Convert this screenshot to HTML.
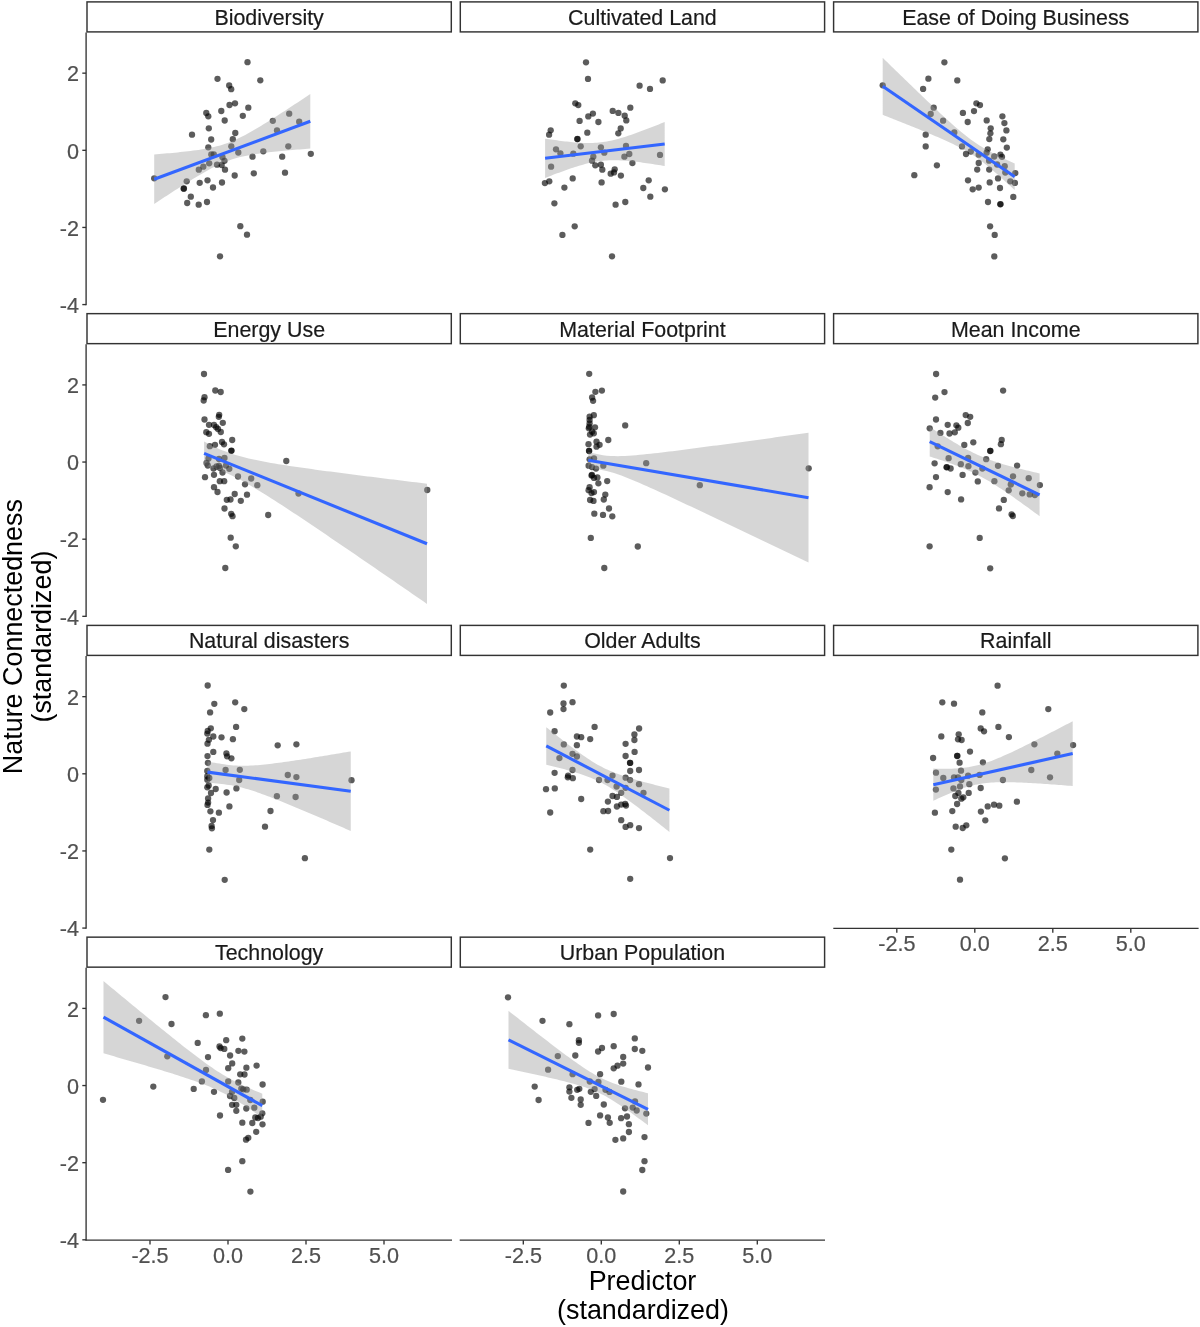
<!DOCTYPE html>
<html><head><meta charset="utf-8"><title>Nature Connectedness vs Predictors</title>
<style>html,body{margin:0;padding:0;background:#fff;width:1200px;height:1327px;overflow:hidden;font-family:"Liberation Sans",sans-serif;}svg{display:block;filter:blur(0.75px);}</style>
</head><body>
<svg width="1200" height="1327" viewBox="0 0 1200 1327">
<rect x="0" y="0" width="1200" height="1327" fill="#fff"/>
<g fill="#000" fill-opacity="0.64"><circle cx="247.5" cy="62.2" r="3.15"/><circle cx="217.5" cy="78.8" r="3.15"/><circle cx="260.3" cy="80.3" r="3.15"/><circle cx="229.2" cy="85.5" r="3.15"/><circle cx="231.2" cy="89.2" r="3.15"/><circle cx="229.5" cy="105.0" r="3.15"/><circle cx="235.0" cy="103.3" r="3.15"/><circle cx="248.3" cy="107.7" r="3.15"/><circle cx="221.3" cy="111.0" r="3.15"/><circle cx="206.3" cy="113.0" r="3.15"/><circle cx="208.3" cy="116.3" r="3.15"/><circle cx="242.8" cy="115.8" r="3.15"/><circle cx="224.7" cy="120.5" r="3.15"/><circle cx="272.8" cy="120.8" r="3.15"/><circle cx="289.2" cy="113.7" r="3.15"/><circle cx="299.2" cy="121.7" r="3.15"/><circle cx="277.0" cy="130.5" r="3.15"/><circle cx="208.8" cy="128.3" r="3.15"/><circle cx="192.0" cy="134.7" r="3.15"/><circle cx="235.3" cy="133.0" r="3.15"/><circle cx="211.2" cy="139.5" r="3.15"/><circle cx="232.8" cy="139.2" r="3.15"/><circle cx="208.3" cy="147.3" r="3.15"/><circle cx="231.3" cy="146.3" r="3.15"/><circle cx="288.3" cy="146.3" r="3.15"/><circle cx="238.3" cy="152.5" r="3.15"/><circle cx="263.3" cy="151.3" r="3.15"/><circle cx="252.5" cy="156.7" r="3.15"/><circle cx="282.2" cy="156.7" r="3.15"/><circle cx="310.8" cy="153.8" r="3.15"/><circle cx="211.3" cy="154.5" r="3.15"/><circle cx="213.8" cy="154.5" r="3.15"/><circle cx="222.5" cy="157.2" r="3.15"/><circle cx="224.5" cy="160.8" r="3.15"/><circle cx="209.2" cy="163.3" r="3.15"/><circle cx="217.0" cy="164.7" r="3.15"/><circle cx="221.7" cy="165.0" r="3.15"/><circle cx="203.3" cy="166.7" r="3.15"/><circle cx="198.8" cy="169.7" r="3.15"/><circle cx="225.0" cy="169.7" r="3.15"/><circle cx="234.7" cy="175.5" r="3.15"/><circle cx="253.8" cy="173.3" r="3.15"/><circle cx="285.0" cy="172.7" r="3.15"/><circle cx="154.2" cy="178.3" r="3.15"/><circle cx="186.7" cy="181.3" r="3.15"/><circle cx="207.5" cy="180.3" r="3.15"/><circle cx="199.7" cy="182.8" r="3.15"/><circle cx="222.0" cy="182.5" r="3.15"/><circle cx="183.7" cy="188.7" r="3.15"/><circle cx="183.9" cy="188.5" r="3.15"/><circle cx="213.0" cy="187.5" r="3.15"/><circle cx="190.8" cy="196.7" r="3.15"/><circle cx="187.2" cy="203.0" r="3.15"/><circle cx="198.7" cy="204.7" r="3.15"/><circle cx="207.0" cy="202.0" r="3.15"/><circle cx="240.3" cy="226.2" r="3.15"/><circle cx="247.0" cy="234.7" r="3.15"/><circle cx="220.0" cy="256.3" r="3.15"/></g>
<path d="M154.20,154.45 L156.80,154.24 L159.40,154.03 L162.00,153.81 L164.61,153.59 L167.21,153.36 L169.81,153.13 L172.41,152.89 L175.01,152.64 L177.61,152.38 L180.22,152.12 L182.82,151.84 L185.42,151.56 L188.02,151.26 L190.62,150.95 L193.22,150.62 L195.83,150.27 L198.43,149.90 L201.03,149.50 L203.63,149.08 L206.23,148.62 L208.83,148.13 L211.44,147.59 L214.04,147.00 L216.64,146.37 L219.24,145.67 L221.84,144.91 L224.44,144.08 L227.05,143.18 L229.65,142.20 L232.25,141.15 L234.85,140.03 L237.45,138.85 L240.06,137.60 L242.66,136.29 L245.26,134.93 L247.86,133.52 L250.46,132.07 L253.06,130.59 L255.66,129.07 L258.27,127.53 L260.87,125.96 L263.47,124.37 L266.07,122.77 L268.67,121.14 L271.27,119.51 L273.88,117.86 L276.48,116.20 L279.08,114.53 L281.68,112.85 L284.28,111.16 L286.88,109.47 L289.49,107.76 L292.09,106.06 L294.69,104.35 L297.29,102.63 L299.89,100.91 L302.50,99.19 L305.10,97.46 L307.70,95.73 L310.30,94.00 L310.30,148.60 L307.70,148.80 L305.10,149.00 L302.50,149.20 L299.89,149.41 L297.29,149.62 L294.69,149.83 L292.09,150.05 L289.49,150.28 L286.88,150.50 L284.28,150.74 L281.68,150.98 L279.08,151.23 L276.48,151.49 L273.88,151.76 L271.27,152.04 L268.67,152.34 L266.07,152.64 L263.47,152.97 L260.87,153.31 L258.27,153.67 L255.66,154.06 L253.06,154.47 L250.46,154.92 L247.86,155.40 L245.26,155.92 L242.66,156.49 L240.06,157.11 L237.45,157.79 L234.85,158.54 L232.25,159.35 L229.65,160.23 L227.05,161.18 L224.44,162.21 L221.84,163.31 L219.24,164.48 L216.64,165.71 L214.04,167.01 L211.44,168.35 L208.83,169.74 L206.23,171.18 L203.63,172.65 L201.03,174.16 L198.43,175.69 L195.83,177.25 L193.22,178.83 L190.62,180.43 L188.02,182.05 L185.42,183.68 L182.82,185.33 L180.22,186.98 L177.61,188.65 L175.01,190.32 L172.41,192.00 L169.81,193.69 L167.21,195.39 L164.61,197.09 L162.00,198.80 L159.40,200.51 L156.80,202.23 L154.20,203.95 Z" fill="#999999" fill-opacity="0.4"/>
<line x1="154.20" y1="179.20" x2="310.30" y2="121.30" stroke="#3366FF" stroke-width="3.1"/>
<rect x="87.0" y="1.90" width="364.30" height="30.0" fill="#fff" stroke="#333" stroke-width="1.45"/>
<text x="269.15" y="24.80" text-anchor="middle" font-family="Liberation Sans, sans-serif" font-size="21.4" fill="#1A1A1A" stroke="#1A1A1A" stroke-width="0.2">Biodiversity</text>
<g fill="#000" fill-opacity="0.64"><circle cx="586.0" cy="62.3" r="3.15"/><circle cx="588.0" cy="78.9" r="3.15"/><circle cx="662.7" cy="80.4" r="3.15"/><circle cx="639.6" cy="85.7" r="3.15"/><circle cx="650.0" cy="88.9" r="3.15"/><circle cx="575.3" cy="103.3" r="3.15"/><circle cx="578.3" cy="105.1" r="3.15"/><circle cx="630.3" cy="107.7" r="3.15"/><circle cx="612.7" cy="110.9" r="3.15"/><circle cx="618.4" cy="112.9" r="3.15"/><circle cx="592.9" cy="113.6" r="3.15"/><circle cx="588.3" cy="116.4" r="3.15"/><circle cx="624.7" cy="115.7" r="3.15"/><circle cx="626.3" cy="120.4" r="3.15"/><circle cx="579.6" cy="120.9" r="3.15"/><circle cx="598.4" cy="122.0" r="3.15"/><circle cx="550.7" cy="130.3" r="3.15"/><circle cx="549.1" cy="134.7" r="3.15"/><circle cx="620.7" cy="128.4" r="3.15"/><circle cx="618.3" cy="133.3" r="3.15"/><circle cx="587.3" cy="132.7" r="3.15"/><circle cx="577.3" cy="139.1" r="3.15"/><circle cx="577.5" cy="139.0" r="3.15"/><circle cx="580.7" cy="146.3" r="3.15"/><circle cx="600.9" cy="147.3" r="3.15"/><circle cx="556.0" cy="149.3" r="3.15"/><circle cx="560.4" cy="153.3" r="3.15"/><circle cx="573.3" cy="153.7" r="3.15"/><circle cx="604.3" cy="152.7" r="3.15"/><circle cx="626.0" cy="146.0" r="3.15"/><circle cx="629.3" cy="154.0" r="3.15"/><circle cx="624.4" cy="156.7" r="3.15"/><circle cx="660.0" cy="154.9" r="3.15"/><circle cx="593.3" cy="156.7" r="3.15"/><circle cx="592.0" cy="160.7" r="3.15"/><circle cx="595.3" cy="165.3" r="3.15"/><circle cx="600.9" cy="164.7" r="3.15"/><circle cx="602.3" cy="169.7" r="3.15"/><circle cx="632.4" cy="163.1" r="3.15"/><circle cx="551.1" cy="166.7" r="3.15"/><circle cx="614.7" cy="169.3" r="3.15"/><circle cx="610.7" cy="173.7" r="3.15"/><circle cx="614.0" cy="172.4" r="3.15"/><circle cx="620.9" cy="175.6" r="3.15"/><circle cx="572.7" cy="178.4" r="3.15"/><circle cx="549.3" cy="181.3" r="3.15"/><circle cx="544.9" cy="183.1" r="3.15"/><circle cx="601.6" cy="182.4" r="3.15"/><circle cx="648.7" cy="180.3" r="3.15"/><circle cx="564.4" cy="187.6" r="3.15"/><circle cx="643.3" cy="188.0" r="3.15"/><circle cx="664.9" cy="189.3" r="3.15"/><circle cx="650.3" cy="196.7" r="3.15"/><circle cx="554.4" cy="203.3" r="3.15"/><circle cx="615.6" cy="204.7" r="3.15"/><circle cx="625.3" cy="202.0" r="3.15"/><circle cx="574.7" cy="226.3" r="3.15"/><circle cx="562.4" cy="234.9" r="3.15"/><circle cx="612.0" cy="256.3" r="3.15"/></g>
<path d="M545.10,138.65 L547.09,138.95 L549.09,139.25 L551.08,139.54 L553.07,139.82 L555.07,140.10 L557.06,140.37 L559.05,140.64 L561.05,140.89 L563.04,141.14 L565.03,141.38 L567.03,141.61 L569.02,141.83 L571.01,142.03 L573.01,142.22 L575.00,142.39 L576.99,142.55 L578.99,142.68 L580.98,142.80 L582.97,142.89 L584.97,142.96 L586.96,143.00 L588.95,143.01 L590.95,142.99 L592.94,142.93 L594.93,142.84 L596.93,142.71 L598.92,142.54 L600.91,142.33 L602.91,142.07 L604.90,141.78 L606.89,141.45 L608.89,141.07 L610.88,140.66 L612.87,140.21 L614.87,139.73 L616.86,139.21 L618.85,138.67 L620.85,138.10 L622.84,137.50 L624.83,136.88 L626.83,136.24 L628.82,135.59 L630.81,134.91 L632.81,134.22 L634.80,133.52 L636.79,132.81 L638.79,132.08 L640.78,131.35 L642.77,130.60 L644.77,129.85 L646.76,129.09 L648.75,128.32 L650.75,127.55 L652.74,126.77 L654.73,125.99 L656.73,125.20 L658.72,124.40 L660.71,123.61 L662.71,122.80 L664.70,122.00 L664.70,166.00 L662.71,165.67 L660.71,165.35 L658.72,165.03 L656.73,164.71 L654.73,164.40 L652.74,164.09 L650.75,163.79 L648.75,163.49 L646.76,163.20 L644.77,162.92 L642.77,162.64 L640.78,162.37 L638.79,162.11 L636.79,161.87 L634.80,161.63 L632.81,161.40 L630.81,161.19 L628.82,160.99 L626.83,160.81 L624.83,160.65 L622.84,160.51 L620.85,160.39 L618.85,160.30 L616.86,160.23 L614.87,160.19 L612.87,160.18 L610.88,160.21 L608.89,160.27 L606.89,160.38 L604.90,160.52 L602.91,160.70 L600.91,160.93 L598.92,161.19 L596.93,161.50 L594.93,161.85 L592.94,162.23 L590.95,162.65 L588.95,163.10 L586.96,163.59 L584.97,164.11 L582.97,164.65 L580.98,165.22 L578.99,165.81 L576.99,166.43 L575.00,167.06 L573.01,167.71 L571.01,168.37 L569.02,169.05 L567.03,169.75 L565.03,170.45 L563.04,171.17 L561.05,171.89 L559.05,172.63 L557.06,173.37 L555.07,174.12 L553.07,174.87 L551.08,175.63 L549.09,176.40 L547.09,177.17 L545.10,177.95 Z" fill="#999999" fill-opacity="0.4"/>
<line x1="545.10" y1="158.30" x2="664.70" y2="144.00" stroke="#3366FF" stroke-width="3.1"/>
<rect x="460.3" y="1.90" width="364.30" height="30.0" fill="#fff" stroke="#333" stroke-width="1.45"/>
<text x="642.45" y="24.80" text-anchor="middle" font-family="Liberation Sans, sans-serif" font-size="21.4" fill="#1A1A1A" stroke="#1A1A1A" stroke-width="0.2">Cultivated Land</text>
<g fill="#000" fill-opacity="0.64"><circle cx="944.4" cy="62.3" r="3.15"/><circle cx="928.4" cy="78.7" r="3.15"/><circle cx="957.3" cy="80.4" r="3.15"/><circle cx="882.7" cy="85.3" r="3.15"/><circle cx="923.1" cy="88.9" r="3.15"/><circle cx="976.4" cy="103.3" r="3.15"/><circle cx="980.0" cy="105.1" r="3.15"/><circle cx="974.0" cy="111.1" r="3.15"/><circle cx="962.9" cy="112.9" r="3.15"/><circle cx="933.7" cy="107.7" r="3.15"/><circle cx="930.7" cy="114.0" r="3.15"/><circle cx="1002.4" cy="116.3" r="3.15"/><circle cx="986.7" cy="120.4" r="3.15"/><circle cx="1004.4" cy="123.1" r="3.15"/><circle cx="943.1" cy="120.7" r="3.15"/><circle cx="967.7" cy="122.0" r="3.15"/><circle cx="990.7" cy="128.3" r="3.15"/><circle cx="990.4" cy="133.3" r="3.15"/><circle cx="1006.4" cy="130.4" r="3.15"/><circle cx="954.3" cy="132.4" r="3.15"/><circle cx="925.7" cy="134.7" r="3.15"/><circle cx="989.3" cy="139.1" r="3.15"/><circle cx="1003.3" cy="139.3" r="3.15"/><circle cx="925.7" cy="146.4" r="3.15"/><circle cx="962.0" cy="146.4" r="3.15"/><circle cx="1006.8" cy="147.6" r="3.15"/><circle cx="987.7" cy="149.3" r="3.15"/><circle cx="970.8" cy="151.5" r="3.15"/><circle cx="966.0" cy="154.0" r="3.15"/><circle cx="978.7" cy="154.7" r="3.15"/><circle cx="986.6" cy="152.7" r="3.15"/><circle cx="994.2" cy="156.5" r="3.15"/><circle cx="1000.4" cy="154.7" r="3.15"/><circle cx="1002.0" cy="156.8" r="3.15"/><circle cx="989.1" cy="160.7" r="3.15"/><circle cx="978.7" cy="163.0" r="3.15"/><circle cx="997.1" cy="164.5" r="3.15"/><circle cx="1004.7" cy="166.2" r="3.15"/><circle cx="936.9" cy="165.3" r="3.15"/><circle cx="977.2" cy="169.6" r="3.15"/><circle cx="989.2" cy="169.6" r="3.15"/><circle cx="1015.3" cy="173.1" r="3.15"/><circle cx="1005.3" cy="172.5" r="3.15"/><circle cx="914.3" cy="175.2" r="3.15"/><circle cx="968.0" cy="180.3" r="3.15"/><circle cx="998.0" cy="178.4" r="3.15"/><circle cx="989.7" cy="182.4" r="3.15"/><circle cx="1010.3" cy="181.3" r="3.15"/><circle cx="1014.9" cy="182.9" r="3.15"/><circle cx="972.7" cy="189.3" r="3.15"/><circle cx="978.7" cy="187.6" r="3.15"/><circle cx="1000.0" cy="188.0" r="3.15"/><circle cx="1013.3" cy="196.9" r="3.15"/><circle cx="988.0" cy="202.0" r="3.15"/><circle cx="1000.3" cy="204.3" r="3.15"/><circle cx="1000.5" cy="204.1" r="3.15"/><circle cx="990.1" cy="226.3" r="3.15"/><circle cx="994.7" cy="234.9" r="3.15"/><circle cx="994.3" cy="256.4" r="3.15"/></g>
<path d="M882.70,57.80 L884.90,59.95 L887.10,62.09 L889.30,64.23 L891.50,66.38 L893.70,68.52 L895.90,70.66 L898.10,72.80 L900.30,74.94 L902.50,77.07 L904.70,79.20 L906.90,81.34 L909.10,83.47 L911.30,85.59 L913.50,87.72 L915.70,89.84 L917.90,91.96 L920.10,94.07 L922.30,96.19 L924.50,98.29 L926.70,100.40 L928.90,102.49 L931.10,104.59 L933.30,106.67 L935.50,108.75 L937.70,110.82 L939.90,112.88 L942.10,114.93 L944.30,116.97 L946.50,118.99 L948.70,121.00 L950.90,122.99 L953.10,124.95 L955.30,126.90 L957.50,128.81 L959.70,130.70 L961.90,132.54 L964.10,134.35 L966.30,136.10 L968.50,137.81 L970.70,139.46 L972.90,141.05 L975.10,142.58 L977.30,144.05 L979.50,145.47 L981.70,146.83 L983.90,148.15 L986.10,149.42 L988.30,150.64 L990.50,151.83 L992.70,152.99 L994.90,154.11 L997.10,155.22 L999.30,156.29 L1001.50,157.35 L1003.70,158.39 L1005.90,159.42 L1008.10,160.43 L1010.30,161.43 L1012.50,162.42 L1014.70,163.40 L1014.70,190.00 L1012.50,187.97 L1010.30,185.94 L1008.10,183.93 L1005.90,181.93 L1003.70,179.94 L1001.50,177.97 L999.30,176.01 L997.10,174.08 L994.90,172.17 L992.70,170.28 L990.50,168.42 L988.30,166.60 L986.10,164.81 L983.90,163.07 L981.70,161.37 L979.50,159.72 L977.30,158.12 L975.10,156.58 L972.90,155.10 L970.70,153.67 L968.50,152.31 L966.30,151.00 L964.10,149.75 L961.90,148.54 L959.70,147.37 L957.50,146.24 L955.30,145.14 L953.10,144.07 L950.90,143.03 L948.70,142.00 L946.50,141.00 L944.30,140.01 L942.10,139.03 L939.90,138.07 L937.70,137.11 L935.50,136.17 L933.30,135.24 L931.10,134.31 L928.90,133.39 L926.70,132.47 L924.50,131.56 L922.30,130.65 L920.10,129.75 L917.90,128.85 L915.70,127.96 L913.50,127.07 L911.30,126.18 L909.10,125.29 L906.90,124.41 L904.70,123.53 L902.50,122.65 L900.30,121.77 L898.10,120.90 L895.90,120.02 L893.70,119.15 L891.50,118.28 L889.30,117.41 L887.10,116.54 L884.90,115.67 L882.70,114.80 Z" fill="#999999" fill-opacity="0.4"/>
<line x1="882.70" y1="86.30" x2="1014.70" y2="176.70" stroke="#3366FF" stroke-width="3.1"/>
<rect x="833.6" y="1.90" width="364.30" height="30.0" fill="#fff" stroke="#333" stroke-width="1.45"/>
<text x="1015.75" y="24.80" text-anchor="middle" font-family="Liberation Sans, sans-serif" font-size="21.4" fill="#1A1A1A" stroke="#1A1A1A" stroke-width="0.2">Ease of Doing Business</text>
<g fill="#000" fill-opacity="0.64"><circle cx="204.0" cy="374.0" r="3.15"/><circle cx="215.3" cy="390.5" r="3.15"/><circle cx="220.7" cy="392.0" r="3.15"/><circle cx="204.5" cy="397.2" r="3.15"/><circle cx="203.7" cy="400.5" r="3.15"/><circle cx="219.2" cy="414.8" r="3.15"/><circle cx="218.8" cy="416.8" r="3.15"/><circle cx="204.5" cy="419.5" r="3.15"/><circle cx="222.8" cy="422.8" r="3.15"/><circle cx="209.0" cy="424.8" r="3.15"/><circle cx="214.0" cy="425.0" r="3.15"/><circle cx="216.2" cy="427.2" r="3.15"/><circle cx="218.0" cy="429.0" r="3.15"/><circle cx="220.8" cy="432.0" r="3.15"/><circle cx="206.3" cy="432.2" r="3.15"/><circle cx="209.0" cy="433.8" r="3.15"/><circle cx="232.2" cy="440.0" r="3.15"/><circle cx="222.0" cy="442.0" r="3.15"/><circle cx="224.0" cy="444.3" r="3.15"/><circle cx="209.8" cy="446.2" r="3.15"/><circle cx="215.0" cy="444.8" r="3.15"/><circle cx="231.3" cy="450.8" r="3.15"/><circle cx="231.5" cy="450.6" r="3.15"/><circle cx="286.3" cy="461.0" r="3.15"/><circle cx="224.5" cy="458.0" r="3.15"/><circle cx="208.5" cy="458.5" r="3.15"/><circle cx="206.5" cy="463.0" r="3.15"/><circle cx="207.8" cy="465.5" r="3.15"/><circle cx="219.0" cy="459.0" r="3.15"/><circle cx="219.0" cy="466.0" r="3.15"/><circle cx="220.0" cy="468.0" r="3.15"/><circle cx="213.5" cy="468.5" r="3.15"/><circle cx="216.5" cy="466.5" r="3.15"/><circle cx="226.0" cy="465.5" r="3.15"/><circle cx="229.3" cy="468.8" r="3.15"/><circle cx="222.5" cy="472.5" r="3.15"/><circle cx="214.0" cy="474.8" r="3.15"/><circle cx="205.0" cy="477.2" r="3.15"/><circle cx="238.0" cy="476.5" r="3.15"/><circle cx="251.2" cy="478.5" r="3.15"/><circle cx="219.8" cy="481.2" r="3.15"/><circle cx="224.2" cy="481.2" r="3.15"/><circle cx="245.0" cy="484.3" r="3.15"/><circle cx="257.3" cy="485.2" r="3.15"/><circle cx="214.0" cy="487.2" r="3.15"/><circle cx="217.5" cy="492.0" r="3.15"/><circle cx="234.7" cy="494.0" r="3.15"/><circle cx="247.0" cy="494.7" r="3.15"/><circle cx="298.5" cy="493.5" r="3.15"/><circle cx="226.8" cy="499.8" r="3.15"/><circle cx="230.5" cy="499.5" r="3.15"/><circle cx="240.8" cy="500.8" r="3.15"/><circle cx="224.5" cy="508.5" r="3.15"/><circle cx="231.2" cy="513.8" r="3.15"/><circle cx="232.5" cy="516.2" r="3.15"/><circle cx="268.2" cy="515.0" r="3.15"/><circle cx="230.7" cy="537.7" r="3.15"/><circle cx="235.8" cy="546.3" r="3.15"/><circle cx="427.3" cy="490.0" r="3.15"/><circle cx="225.3" cy="568.0" r="3.15"/></g>
<path d="M204.10,441.40 L207.81,443.44 L211.53,445.38 L215.25,447.19 L218.96,448.88 L222.67,450.43 L226.39,451.86 L230.10,453.19 L233.82,454.41 L237.53,455.54 L241.25,456.59 L244.97,457.56 L248.68,458.46 L252.39,459.30 L256.11,460.10 L259.82,460.85 L263.54,461.57 L267.25,462.25 L270.97,462.91 L274.69,463.55 L278.40,464.16 L282.12,464.76 L285.83,465.34 L289.54,465.91 L293.26,466.47 L296.98,467.01 L300.69,467.55 L304.40,468.08 L308.12,468.60 L311.83,469.12 L315.55,469.63 L319.26,470.13 L322.98,470.63 L326.69,471.13 L330.41,471.62 L334.12,472.11 L337.84,472.59 L341.56,473.07 L345.27,473.55 L348.99,474.03 L352.70,474.50 L356.41,474.98 L360.13,475.45 L363.85,475.92 L367.56,476.38 L371.27,476.85 L374.99,477.31 L378.71,477.78 L382.42,478.24 L386.13,478.70 L389.85,479.16 L393.56,479.61 L397.28,480.07 L401.00,480.53 L404.71,480.98 L408.42,481.44 L412.14,481.89 L415.86,482.34 L419.57,482.80 L423.28,483.25 L427.00,483.70 L427.00,603.90 L423.28,601.34 L419.57,598.78 L415.86,596.22 L412.14,593.65 L408.42,591.10 L404.71,588.54 L401.00,585.98 L397.28,583.42 L393.56,580.87 L389.85,578.31 L386.13,575.76 L382.42,573.20 L378.71,570.65 L374.99,568.10 L371.27,565.55 L367.56,563.00 L363.85,560.46 L360.13,557.91 L356.41,555.37 L352.70,552.83 L348.99,550.29 L345.27,547.75 L341.56,545.22 L337.84,542.69 L334.12,540.16 L330.41,537.64 L326.69,535.11 L322.98,532.60 L319.26,530.08 L315.55,527.57 L311.83,525.07 L308.12,522.57 L304.40,520.08 L300.69,517.60 L296.98,515.12 L293.26,512.65 L289.54,510.20 L285.83,507.75 L282.12,505.32 L278.40,502.91 L274.69,500.51 L270.97,498.13 L267.25,495.77 L263.54,493.45 L259.82,491.15 L256.11,488.89 L252.39,486.67 L248.68,484.50 L244.97,482.39 L241.25,480.35 L237.53,478.38 L233.82,476.49 L230.10,474.70 L226.39,473.02 L222.67,471.44 L218.96,469.97 L215.25,468.65 L211.53,467.45 L207.81,466.37 L204.10,465.40 Z" fill="#999999" fill-opacity="0.4"/>
<line x1="204.10" y1="453.40" x2="427.00" y2="543.80" stroke="#3366FF" stroke-width="3.1"/>
<rect x="87.0" y="313.65" width="364.30" height="30.0" fill="#fff" stroke="#333" stroke-width="1.45"/>
<text x="269.15" y="336.55" text-anchor="middle" font-family="Liberation Sans, sans-serif" font-size="21.4" fill="#1A1A1A" stroke="#1A1A1A" stroke-width="0.2">Energy Use</text>
<g fill="#000" fill-opacity="0.64"><circle cx="589.2" cy="373.8" r="3.15"/><circle cx="595.4" cy="391.8" r="3.15"/><circle cx="601.9" cy="390.6" r="3.15"/><circle cx="592.1" cy="397.5" r="3.15"/><circle cx="593.1" cy="400.8" r="3.15"/><circle cx="593.8" cy="415.2" r="3.15"/><circle cx="589.6" cy="416.7" r="3.15"/><circle cx="589.6" cy="420.0" r="3.15"/><circle cx="589.6" cy="423.3" r="3.15"/><circle cx="589.2" cy="426.7" r="3.15"/><circle cx="595.0" cy="427.3" r="3.15"/><circle cx="588.8" cy="428.3" r="3.15"/><circle cx="592.1" cy="431.7" r="3.15"/><circle cx="593.8" cy="433.3" r="3.15"/><circle cx="590.0" cy="434.6" r="3.15"/><circle cx="625.2" cy="425.4" r="3.15"/><circle cx="608.3" cy="440.0" r="3.15"/><circle cx="596.5" cy="441.7" r="3.15"/><circle cx="599.6" cy="444.8" r="3.15"/><circle cx="596.5" cy="446.7" r="3.15"/><circle cx="588.5" cy="444.2" r="3.15"/><circle cx="589.0" cy="450.8" r="3.15"/><circle cx="589.2" cy="451.0" r="3.15"/><circle cx="589.6" cy="459.3" r="3.15"/><circle cx="594.0" cy="458.3" r="3.15"/><circle cx="588.6" cy="465.7" r="3.15"/><circle cx="592.0" cy="467.1" r="3.15"/><circle cx="596.0" cy="468.6" r="3.15"/><circle cx="603.3" cy="465.7" r="3.15"/><circle cx="646.2" cy="463.2" r="3.15"/><circle cx="592.0" cy="475.0" r="3.15"/><circle cx="591.5" cy="475.5" r="3.15"/><circle cx="594.0" cy="477.9" r="3.15"/><circle cx="597.4" cy="477.4" r="3.15"/><circle cx="598.4" cy="483.3" r="3.15"/><circle cx="607.2" cy="481.1" r="3.15"/><circle cx="589.6" cy="487.2" r="3.15"/><circle cx="588.6" cy="490.2" r="3.15"/><circle cx="591.5" cy="493.1" r="3.15"/><circle cx="594.0" cy="492.1" r="3.15"/><circle cx="590.1" cy="500.0" r="3.15"/><circle cx="593.5" cy="500.9" r="3.15"/><circle cx="605.3" cy="494.6" r="3.15"/><circle cx="603.8" cy="499.5" r="3.15"/><circle cx="609.0" cy="508.5" r="3.15"/><circle cx="594.3" cy="513.7" r="3.15"/><circle cx="603.0" cy="514.9" r="3.15"/><circle cx="612.3" cy="516.3" r="3.15"/><circle cx="590.8" cy="537.9" r="3.15"/><circle cx="637.8" cy="546.5" r="3.15"/><circle cx="604.3" cy="568.0" r="3.15"/><circle cx="808.7" cy="468.3" r="3.15"/><circle cx="699.8" cy="485.2" r="3.15"/></g>
<path d="M588.30,451.90 L591.97,452.90 L595.64,453.79 L599.31,454.56 L602.98,455.18 L606.65,455.64 L610.32,455.94 L613.99,456.10 L617.66,456.14 L621.33,456.07 L625.00,455.93 L628.67,455.73 L632.34,455.47 L636.01,455.18 L639.68,454.85 L643.35,454.49 L647.02,454.12 L650.69,453.73 L654.36,453.32 L658.03,452.90 L661.70,452.47 L665.37,452.03 L669.04,451.58 L672.71,451.13 L676.38,450.67 L680.05,450.20 L683.72,449.73 L687.39,449.26 L691.06,448.78 L694.73,448.30 L698.40,447.82 L702.07,447.34 L705.74,446.85 L709.41,446.36 L713.08,445.87 L716.75,445.38 L720.42,444.89 L724.09,444.39 L727.76,443.90 L731.43,443.40 L735.10,442.90 L738.77,442.40 L742.44,441.90 L746.11,441.40 L749.78,440.90 L753.45,440.40 L757.12,439.89 L760.79,439.39 L764.46,438.89 L768.13,438.38 L771.80,437.88 L775.47,437.37 L779.14,436.86 L782.81,436.36 L786.48,435.85 L790.15,435.34 L793.82,434.83 L797.49,434.33 L801.16,433.82 L804.83,433.31 L808.50,432.80 L808.50,562.60 L804.83,560.84 L801.16,559.08 L797.49,557.32 L793.82,555.57 L790.15,553.81 L786.48,552.05 L782.81,550.29 L779.14,548.54 L775.47,546.78 L771.80,545.02 L768.13,543.27 L764.46,541.51 L760.79,539.76 L757.12,538.01 L753.45,536.25 L749.78,534.50 L746.11,532.75 L742.44,531.00 L738.77,529.25 L735.10,527.50 L731.43,525.75 L727.76,524.00 L724.09,522.26 L720.42,520.51 L716.75,518.77 L713.08,517.03 L709.41,515.29 L705.74,513.55 L702.07,511.81 L698.40,510.08 L694.73,508.35 L691.06,506.62 L687.39,504.89 L683.72,503.17 L680.05,501.45 L676.38,499.73 L672.71,498.02 L669.04,496.32 L665.37,494.62 L661.70,492.93 L658.03,491.25 L654.36,489.58 L650.69,487.92 L647.02,486.28 L643.35,484.66 L639.68,483.05 L636.01,481.47 L632.34,479.93 L628.67,478.42 L625.00,476.97 L621.33,475.58 L617.66,474.26 L613.99,473.05 L610.32,471.96 L606.65,471.01 L602.98,470.22 L599.31,469.59 L595.64,469.11 L591.97,468.75 L588.30,468.50 Z" fill="#999999" fill-opacity="0.4"/>
<line x1="588.30" y1="460.20" x2="808.50" y2="497.70" stroke="#3366FF" stroke-width="3.1"/>
<rect x="460.3" y="313.65" width="364.30" height="30.0" fill="#fff" stroke="#333" stroke-width="1.45"/>
<text x="642.45" y="336.55" text-anchor="middle" font-family="Liberation Sans, sans-serif" font-size="21.4" fill="#1A1A1A" stroke="#1A1A1A" stroke-width="0.2">Material Footprint</text>
<g fill="#000" fill-opacity="0.64"><circle cx="936.1" cy="374.0" r="3.15"/><circle cx="944.5" cy="392.1" r="3.15"/><circle cx="935.2" cy="397.6" r="3.15"/><circle cx="1003.1" cy="390.6" r="3.15"/><circle cx="965.7" cy="415.1" r="3.15"/><circle cx="970.2" cy="416.8" r="3.15"/><circle cx="967.8" cy="423.0" r="3.15"/><circle cx="936.0" cy="419.5" r="3.15"/><circle cx="947.7" cy="424.8" r="3.15"/><circle cx="956.4" cy="425.3" r="3.15"/><circle cx="958.3" cy="427.7" r="3.15"/><circle cx="929.7" cy="428.3" r="3.15"/><circle cx="940.4" cy="432.9" r="3.15"/><circle cx="949.5" cy="433.5" r="3.15"/><circle cx="954.8" cy="432.3" r="3.15"/><circle cx="973.3" cy="442.3" r="3.15"/><circle cx="964.3" cy="444.9" r="3.15"/><circle cx="1001.7" cy="439.9" r="3.15"/><circle cx="1000.9" cy="444.2" r="3.15"/><circle cx="937.7" cy="446.3" r="3.15"/><circle cx="990.2" cy="451.0" r="3.15"/><circle cx="990.4" cy="450.8" r="3.15"/><circle cx="948.6" cy="458.2" r="3.15"/><circle cx="968.1" cy="458.0" r="3.15"/><circle cx="986.2" cy="459.2" r="3.15"/><circle cx="934.6" cy="463.3" r="3.15"/><circle cx="960.8" cy="464.2" r="3.15"/><circle cx="968.4" cy="466.2" r="3.15"/><circle cx="998.0" cy="465.8" r="3.15"/><circle cx="1017.1" cy="465.6" r="3.15"/><circle cx="946.6" cy="467.3" r="3.15"/><circle cx="946.8" cy="467.1" r="3.15"/><circle cx="950.6" cy="468.5" r="3.15"/><circle cx="982.4" cy="468.6" r="3.15"/><circle cx="975.4" cy="472.6" r="3.15"/><circle cx="962.6" cy="474.9" r="3.15"/><circle cx="936.0" cy="477.1" r="3.15"/><circle cx="1013.0" cy="476.3" r="3.15"/><circle cx="1028.7" cy="478.2" r="3.15"/><circle cx="977.8" cy="481.4" r="3.15"/><circle cx="994.4" cy="481.2" r="3.15"/><circle cx="1010.8" cy="484.5" r="3.15"/><circle cx="1039.9" cy="485.1" r="3.15"/><circle cx="929.6" cy="487.2" r="3.15"/><circle cx="1008.7" cy="490.3" r="3.15"/><circle cx="1022.3" cy="493.3" r="3.15"/><circle cx="1029.7" cy="494.4" r="3.15"/><circle cx="1034.9" cy="495.0" r="3.15"/><circle cx="947.7" cy="492.1" r="3.15"/><circle cx="961.1" cy="499.4" r="3.15"/><circle cx="1003.8" cy="499.9" r="3.15"/><circle cx="999.0" cy="508.4" r="3.15"/><circle cx="1011.6" cy="514.3" r="3.15"/><circle cx="1012.8" cy="516.0" r="3.15"/><circle cx="979.7" cy="537.9" r="3.15"/><circle cx="929.6" cy="546.3" r="3.15"/><circle cx="990.2" cy="568.3" r="3.15"/></g>
<path d="M929.70,426.85 L931.53,428.06 L933.36,429.27 L935.20,430.46 L937.03,431.66 L938.86,432.84 L940.69,434.01 L942.52,435.18 L944.35,436.33 L946.19,437.48 L948.02,438.61 L949.85,439.73 L951.68,440.85 L953.51,441.94 L955.34,443.03 L957.17,444.09 L959.01,445.15 L960.84,446.18 L962.67,447.20 L964.50,448.21 L966.33,449.19 L968.16,450.16 L970.00,451.10 L971.83,452.03 L973.66,452.94 L975.49,453.82 L977.32,454.68 L979.15,455.51 L980.99,456.32 L982.82,457.09 L984.65,457.84 L986.48,458.57 L988.31,459.27 L990.14,459.95 L991.98,460.60 L993.81,461.24 L995.64,461.85 L997.47,462.45 L999.30,463.03 L1001.13,463.60 L1002.97,464.15 L1004.80,464.69 L1006.63,465.22 L1008.46,465.73 L1010.29,466.24 L1012.12,466.73 L1013.96,467.22 L1015.79,467.70 L1017.62,468.17 L1019.45,468.63 L1021.28,469.09 L1023.11,469.54 L1024.95,469.99 L1026.78,470.43 L1028.61,470.87 L1030.44,471.30 L1032.27,471.73 L1034.11,472.15 L1035.94,472.57 L1037.77,472.99 L1039.60,473.40 L1039.60,516.20 L1037.77,514.84 L1035.94,513.49 L1034.11,512.14 L1032.27,510.79 L1030.44,509.45 L1028.61,508.11 L1026.78,506.78 L1024.95,505.45 L1023.11,504.13 L1021.28,502.81 L1019.45,501.50 L1017.62,500.19 L1015.79,498.89 L1013.96,497.60 L1012.12,496.32 L1010.29,495.04 L1008.46,493.78 L1006.63,492.52 L1004.80,491.28 L1002.97,490.05 L1001.13,488.83 L999.30,487.63 L997.47,486.44 L995.64,485.27 L993.81,484.11 L991.98,482.98 L990.14,481.86 L988.31,480.77 L986.48,479.70 L984.65,478.66 L982.82,477.64 L980.99,476.64 L979.15,475.68 L977.32,474.74 L975.49,473.83 L973.66,472.94 L971.83,472.08 L970.00,471.24 L968.16,470.41 L966.33,469.61 L964.50,468.82 L962.67,468.06 L960.84,467.31 L959.01,466.57 L957.17,465.86 L955.34,465.15 L953.51,464.47 L951.68,463.79 L949.85,463.14 L948.02,462.49 L946.19,461.85 L944.35,461.23 L942.52,460.61 L940.69,460.01 L938.86,459.41 L937.03,458.82 L935.20,458.25 L933.36,457.67 L931.53,457.11 L929.70,456.55 Z" fill="#999999" fill-opacity="0.4"/>
<line x1="929.70" y1="441.70" x2="1039.60" y2="494.80" stroke="#3366FF" stroke-width="3.1"/>
<rect x="833.6" y="313.65" width="364.30" height="30.0" fill="#fff" stroke="#333" stroke-width="1.45"/>
<text x="1015.75" y="336.55" text-anchor="middle" font-family="Liberation Sans, sans-serif" font-size="21.4" fill="#1A1A1A" stroke="#1A1A1A" stroke-width="0.2">Mean Income</text>
<g fill="#000" fill-opacity="0.64"><circle cx="207.7" cy="685.5" r="3.15"/><circle cx="214.3" cy="703.8" r="3.15"/><circle cx="235.2" cy="702.3" r="3.15"/><circle cx="244.3" cy="709.1" r="3.15"/><circle cx="210.1" cy="712.4" r="3.15"/><circle cx="210.8" cy="728.3" r="3.15"/><circle cx="207.7" cy="730.9" r="3.15"/><circle cx="207.3" cy="733.6" r="3.15"/><circle cx="236.1" cy="726.9" r="3.15"/><circle cx="213.3" cy="736.5" r="3.15"/><circle cx="221.5" cy="737.3" r="3.15"/><circle cx="208.9" cy="739.8" r="3.15"/><circle cx="207.5" cy="743.7" r="3.15"/><circle cx="232.9" cy="739.2" r="3.15"/><circle cx="277.7" cy="745.3" r="3.15"/><circle cx="296.4" cy="744.3" r="3.15"/><circle cx="213.3" cy="751.9" r="3.15"/><circle cx="226.4" cy="753.4" r="3.15"/><circle cx="227.1" cy="756.3" r="3.15"/><circle cx="231.4" cy="758.3" r="3.15"/><circle cx="207.5" cy="756.1" r="3.15"/><circle cx="207.9" cy="762.8" r="3.15"/><circle cx="207.3" cy="770.9" r="3.15"/><circle cx="225.6" cy="770.0" r="3.15"/><circle cx="239.8" cy="769.8" r="3.15"/><circle cx="207.3" cy="776.2" r="3.15"/><circle cx="209.3" cy="777.9" r="3.15"/><circle cx="287.8" cy="775.0" r="3.15"/><circle cx="296.4" cy="777.1" r="3.15"/><circle cx="239.2" cy="780.0" r="3.15"/><circle cx="207.3" cy="779.7" r="3.15"/><circle cx="208.7" cy="785.5" r="3.15"/><circle cx="207.3" cy="787.3" r="3.15"/><circle cx="215.7" cy="789.0" r="3.15"/><circle cx="236.4" cy="788.4" r="3.15"/><circle cx="226.6" cy="792.5" r="3.15"/><circle cx="211.0" cy="793.0" r="3.15"/><circle cx="276.9" cy="796.2" r="3.15"/><circle cx="295.6" cy="797.0" r="3.15"/><circle cx="208.1" cy="798.5" r="3.15"/><circle cx="208.1" cy="802.6" r="3.15"/><circle cx="207.5" cy="804.9" r="3.15"/><circle cx="229.4" cy="806.4" r="3.15"/><circle cx="210.4" cy="811.3" r="3.15"/><circle cx="218.9" cy="812.7" r="3.15"/><circle cx="270.5" cy="811.0" r="3.15"/><circle cx="213.0" cy="820.1" r="3.15"/><circle cx="211.6" cy="825.9" r="3.15"/><circle cx="211.9" cy="828.3" r="3.15"/><circle cx="265.0" cy="826.7" r="3.15"/><circle cx="209.3" cy="849.6" r="3.15"/><circle cx="304.9" cy="858.2" r="3.15"/><circle cx="224.7" cy="879.8" r="3.15"/><circle cx="351.5" cy="780.2" r="3.15"/></g>
<path d="M207.50,761.50 L209.89,761.95 L212.28,762.38 L214.66,762.80 L217.05,763.20 L219.44,763.58 L221.82,763.95 L224.21,764.31 L226.60,764.64 L228.99,764.96 L231.38,765.23 L233.76,765.44 L236.15,765.60 L238.54,765.71 L240.93,765.77 L243.31,765.78 L245.70,765.75 L248.09,765.69 L250.47,765.59 L252.86,765.46 L255.25,765.31 L257.64,765.13 L260.02,764.93 L262.41,764.70 L264.80,764.46 L267.19,764.21 L269.57,763.94 L271.96,763.66 L274.35,763.36 L276.74,763.06 L279.12,762.74 L281.51,762.42 L283.90,762.09 L286.29,761.76 L288.68,761.42 L291.06,761.07 L293.45,760.71 L295.84,760.36 L298.23,760.00 L300.61,759.63 L303.00,759.26 L305.39,758.89 L307.77,758.51 L310.16,758.13 L312.55,757.75 L314.94,757.37 L317.32,756.98 L319.71,756.59 L322.10,756.20 L324.49,755.81 L326.88,755.41 L329.26,755.02 L331.65,754.62 L334.04,754.22 L336.43,753.82 L338.81,753.42 L341.20,753.02 L343.59,752.62 L345.98,752.21 L348.36,751.81 L350.75,751.40 L350.75,831.00 L348.36,829.96 L345.98,828.91 L343.59,827.87 L341.20,826.83 L338.81,825.79 L336.43,824.76 L334.04,823.72 L331.65,822.68 L329.26,821.65 L326.88,820.62 L324.49,819.59 L322.10,818.56 L319.71,817.53 L317.32,816.51 L314.94,815.48 L312.55,814.46 L310.16,813.44 L307.77,812.43 L305.39,811.42 L303.00,810.41 L300.61,809.40 L298.23,808.40 L295.84,807.40 L293.45,806.41 L291.06,805.42 L288.68,804.43 L286.29,803.45 L283.90,802.48 L281.51,801.51 L279.12,800.56 L276.74,799.61 L274.35,798.67 L271.96,797.73 L269.57,796.82 L267.19,795.91 L264.80,795.02 L262.41,794.14 L260.02,793.28 L257.64,792.44 L255.25,791.62 L252.86,790.83 L250.47,790.07 L248.09,789.33 L245.70,788.63 L243.31,787.97 L240.93,787.35 L238.54,786.77 L236.15,786.24 L233.76,785.76 L231.38,785.34 L228.99,784.97 L226.60,784.65 L224.21,784.35 L221.82,784.07 L219.44,783.80 L217.05,783.55 L214.66,783.31 L212.28,783.09 L209.89,782.89 L207.50,782.70 Z" fill="#999999" fill-opacity="0.4"/>
<line x1="207.50" y1="772.10" x2="350.75" y2="791.20" stroke="#3366FF" stroke-width="3.1"/>
<rect x="87.0" y="625.40" width="364.30" height="30.0" fill="#fff" stroke="#333" stroke-width="1.45"/>
<text x="269.15" y="648.30" text-anchor="middle" font-family="Liberation Sans, sans-serif" font-size="21.4" fill="#1A1A1A" stroke="#1A1A1A" stroke-width="0.2">Natural disasters</text>
<g fill="#000" fill-opacity="0.64"><circle cx="563.8" cy="685.6" r="3.15"/><circle cx="563.5" cy="703.5" r="3.15"/><circle cx="572.5" cy="702.2" r="3.15"/><circle cx="563.5" cy="709.1" r="3.15"/><circle cx="550.2" cy="712.5" r="3.15"/><circle cx="594.6" cy="726.9" r="3.15"/><circle cx="639.1" cy="728.5" r="3.15"/><circle cx="554.6" cy="731.2" r="3.15"/><circle cx="634.4" cy="734.4" r="3.15"/><circle cx="634.4" cy="740.0" r="3.15"/><circle cx="576.9" cy="736.5" r="3.15"/><circle cx="581.2" cy="737.2" r="3.15"/><circle cx="590.2" cy="739.1" r="3.15"/><circle cx="625.6" cy="743.8" r="3.15"/><circle cx="563.8" cy="744.4" r="3.15"/><circle cx="576.9" cy="745.2" r="3.15"/><circle cx="634.6" cy="751.9" r="3.15"/><circle cx="572.5" cy="753.8" r="3.15"/><circle cx="576.9" cy="756.5" r="3.15"/><circle cx="559.4" cy="758.1" r="3.15"/><circle cx="625.6" cy="756.0" r="3.15"/><circle cx="630.0" cy="762.8" r="3.15"/><circle cx="630.2" cy="762.9" r="3.15"/><circle cx="630.2" cy="771.0" r="3.15"/><circle cx="639.0" cy="770.0" r="3.15"/><circle cx="572.5" cy="770.0" r="3.15"/><circle cx="554.6" cy="772.8" r="3.15"/><circle cx="568.1" cy="775.6" r="3.15"/><circle cx="567.8" cy="777.3" r="3.15"/><circle cx="572.8" cy="778.2" r="3.15"/><circle cx="612.5" cy="775.6" r="3.15"/><circle cx="625.6" cy="777.7" r="3.15"/><circle cx="630.1" cy="780.1" r="3.15"/><circle cx="599.0" cy="780.0" r="3.15"/><circle cx="607.5" cy="780.1" r="3.15"/><circle cx="639.0" cy="784.2" r="3.15"/><circle cx="616.6" cy="786.5" r="3.15"/><circle cx="546.0" cy="789.2" r="3.15"/><circle cx="554.8" cy="788.4" r="3.15"/><circle cx="625.6" cy="787.8" r="3.15"/><circle cx="621.2" cy="792.8" r="3.15"/><circle cx="643.5" cy="792.8" r="3.15"/><circle cx="612.5" cy="796.0" r="3.15"/><circle cx="616.9" cy="796.9" r="3.15"/><circle cx="581.2" cy="799.0" r="3.15"/><circle cx="607.9" cy="801.6" r="3.15"/><circle cx="621.2" cy="804.6" r="3.15"/><circle cx="625.2" cy="804.0" r="3.15"/><circle cx="626.0" cy="805.6" r="3.15"/><circle cx="616.9" cy="806.5" r="3.15"/><circle cx="603.4" cy="811.2" r="3.15"/><circle cx="608.1" cy="811.0" r="3.15"/><circle cx="550.2" cy="812.5" r="3.15"/><circle cx="621.2" cy="820.2" r="3.15"/><circle cx="625.6" cy="826.9" r="3.15"/><circle cx="630.2" cy="825.2" r="3.15"/><circle cx="639.0" cy="828.1" r="3.15"/><circle cx="590.2" cy="849.6" r="3.15"/><circle cx="670.0" cy="858.1" r="3.15"/><circle cx="630.2" cy="878.8" r="3.15"/></g>
<path d="M546.25,727.15 L548.30,728.79 L550.36,730.43 L552.41,732.06 L554.46,733.69 L556.51,735.31 L558.57,736.93 L560.62,738.54 L562.67,740.14 L564.72,741.73 L566.77,743.32 L568.83,744.89 L570.88,746.45 L572.93,748.00 L574.99,749.53 L577.04,751.04 L579.09,752.53 L581.14,754.01 L583.20,755.45 L585.25,756.87 L587.30,758.26 L589.35,759.62 L591.40,760.93 L593.46,762.21 L595.51,763.44 L597.56,764.63 L599.62,765.77 L601.67,766.86 L603.72,767.90 L605.77,768.89 L607.82,769.84 L609.88,770.75 L611.93,771.62 L613.98,772.45 L616.03,773.25 L618.09,774.01 L620.14,774.75 L622.19,775.46 L624.25,776.15 L626.30,776.81 L628.35,777.46 L630.40,778.10 L632.45,778.71 L634.51,779.32 L636.56,779.91 L638.61,780.49 L640.66,781.07 L642.72,781.63 L644.77,782.19 L646.82,782.74 L648.88,783.29 L650.93,783.83 L652.98,784.36 L655.03,784.89 L657.09,785.42 L659.14,785.94 L661.19,786.46 L663.24,786.97 L665.29,787.48 L667.35,787.99 L669.40,788.50 L669.40,832.00 L667.35,830.36 L665.29,828.73 L663.24,827.09 L661.19,825.46 L659.14,823.84 L657.09,822.21 L655.03,820.59 L652.98,818.98 L650.93,817.37 L648.88,815.76 L646.82,814.16 L644.77,812.57 L642.72,810.98 L640.66,809.40 L638.61,807.83 L636.56,806.27 L634.51,804.72 L632.45,803.18 L630.40,801.65 L628.35,800.14 L626.30,798.64 L624.25,797.16 L622.19,795.71 L620.14,794.27 L618.09,792.86 L616.03,791.48 L613.98,790.13 L611.93,788.82 L609.88,787.54 L607.82,786.31 L605.77,785.11 L603.72,783.96 L601.67,782.86 L599.62,781.80 L597.56,780.79 L595.51,779.84 L593.46,778.92 L591.40,778.06 L589.35,777.23 L587.30,776.44 L585.25,775.68 L583.20,774.96 L581.14,774.26 L579.09,773.59 L577.04,772.94 L574.99,772.30 L572.93,771.69 L570.88,771.09 L568.83,770.51 L566.77,769.93 L564.72,769.37 L562.67,768.82 L560.62,768.28 L558.57,767.74 L556.51,767.21 L554.46,766.69 L552.41,766.17 L550.36,765.66 L548.30,765.15 L546.25,764.65 Z" fill="#999999" fill-opacity="0.4"/>
<line x1="546.25" y1="745.90" x2="669.40" y2="810.25" stroke="#3366FF" stroke-width="3.1"/>
<rect x="460.3" y="625.40" width="364.30" height="30.0" fill="#fff" stroke="#333" stroke-width="1.45"/>
<text x="642.45" y="648.30" text-anchor="middle" font-family="Liberation Sans, sans-serif" font-size="21.4" fill="#1A1A1A" stroke="#1A1A1A" stroke-width="0.2">Older Adults</text>
<g fill="#000" fill-opacity="0.64"><circle cx="997.6" cy="685.7" r="3.15"/><circle cx="942.3" cy="702.3" r="3.15"/><circle cx="954.0" cy="703.7" r="3.15"/><circle cx="982.3" cy="712.4" r="3.15"/><circle cx="1048.3" cy="709.1" r="3.15"/><circle cx="980.7" cy="728.4" r="3.15"/><circle cx="984.0" cy="731.3" r="3.15"/><circle cx="998.4" cy="726.9" r="3.15"/><circle cx="941.3" cy="736.4" r="3.15"/><circle cx="958.7" cy="734.3" r="3.15"/><circle cx="958.0" cy="739.3" r="3.15"/><circle cx="961.6" cy="740.0" r="3.15"/><circle cx="1008.9" cy="737.1" r="3.15"/><circle cx="1034.4" cy="744.3" r="3.15"/><circle cx="1073.1" cy="745.1" r="3.15"/><circle cx="970.0" cy="751.6" r="3.15"/><circle cx="957.1" cy="756.0" r="3.15"/><circle cx="957.4" cy="755.8" r="3.15"/><circle cx="933.1" cy="758.0" r="3.15"/><circle cx="1057.3" cy="753.6" r="3.15"/><circle cx="959.6" cy="762.7" r="3.15"/><circle cx="982.9" cy="762.3" r="3.15"/><circle cx="961.0" cy="770.7" r="3.15"/><circle cx="936.0" cy="772.7" r="3.15"/><circle cx="1031.3" cy="770.0" r="3.15"/><circle cx="943.3" cy="778.0" r="3.15"/><circle cx="954.0" cy="777.3" r="3.15"/><circle cx="958.0" cy="777.3" r="3.15"/><circle cx="968.1" cy="775.7" r="3.15"/><circle cx="979.6" cy="774.9" r="3.15"/><circle cx="961.3" cy="780.0" r="3.15"/><circle cx="1002.9" cy="780.0" r="3.15"/><circle cx="1050.0" cy="777.3" r="3.15"/><circle cx="969.3" cy="784.2" r="3.15"/><circle cx="935.9" cy="789.6" r="3.15"/><circle cx="953.4" cy="788.4" r="3.15"/><circle cx="960.0" cy="786.4" r="3.15"/><circle cx="980.7" cy="788.0" r="3.15"/><circle cx="958.4" cy="792.9" r="3.15"/><circle cx="955.3" cy="796.0" r="3.15"/><circle cx="968.7" cy="792.9" r="3.15"/><circle cx="963.3" cy="797.3" r="3.15"/><circle cx="961.3" cy="798.7" r="3.15"/><circle cx="957.1" cy="804.0" r="3.15"/><circle cx="1016.9" cy="801.7" r="3.15"/><circle cx="934.9" cy="812.7" r="3.15"/><circle cx="952.3" cy="811.1" r="3.15"/><circle cx="980.9" cy="811.6" r="3.15"/><circle cx="987.7" cy="806.4" r="3.15"/><circle cx="994.0" cy="804.7" r="3.15"/><circle cx="999.3" cy="805.7" r="3.15"/><circle cx="985.3" cy="820.3" r="3.15"/><circle cx="955.7" cy="826.7" r="3.15"/><circle cx="962.7" cy="828.0" r="3.15"/><circle cx="966.3" cy="825.3" r="3.15"/><circle cx="951.3" cy="849.6" r="3.15"/><circle cx="1004.9" cy="858.3" r="3.15"/><circle cx="960.0" cy="879.7" r="3.15"/></g>
<path d="M933.30,768.60 L935.62,768.66 L937.95,768.71 L940.27,768.75 L942.59,768.77 L944.92,768.77 L947.24,768.75 L949.56,768.71 L951.89,768.65 L954.21,768.55 L956.53,768.43 L958.86,768.27 L961.18,768.07 L963.50,767.82 L965.83,767.54 L968.15,767.20 L970.47,766.81 L972.80,766.37 L975.12,765.87 L977.44,765.31 L979.77,764.70 L982.09,764.04 L984.41,763.32 L986.74,762.56 L989.06,761.74 L991.38,760.89 L993.71,760.00 L996.03,759.07 L998.35,758.11 L1000.68,757.13 L1003.00,756.12 L1005.32,755.08 L1007.65,754.03 L1009.97,752.96 L1012.29,751.88 L1014.62,750.78 L1016.94,749.67 L1019.26,748.55 L1021.59,747.41 L1023.91,746.27 L1026.23,745.12 L1028.56,743.97 L1030.88,742.80 L1033.20,741.63 L1035.53,740.46 L1037.85,739.28 L1040.17,738.09 L1042.50,736.91 L1044.82,735.71 L1047.14,734.52 L1049.47,733.32 L1051.79,732.12 L1054.11,730.91 L1056.44,729.71 L1058.76,728.50 L1061.08,727.29 L1063.41,726.07 L1065.73,724.86 L1068.05,723.64 L1070.38,722.42 L1072.70,721.20 L1072.70,786.00 L1070.38,785.82 L1068.05,785.63 L1065.73,785.45 L1063.41,785.27 L1061.08,785.10 L1058.76,784.92 L1056.44,784.75 L1054.11,784.58 L1051.79,784.41 L1049.47,784.25 L1047.14,784.08 L1044.82,783.93 L1042.50,783.77 L1040.17,783.62 L1037.85,783.47 L1035.53,783.33 L1033.20,783.19 L1030.88,783.06 L1028.56,782.93 L1026.23,782.81 L1023.91,782.70 L1021.59,782.59 L1019.26,782.50 L1016.94,782.41 L1014.62,782.34 L1012.29,782.27 L1009.97,782.23 L1007.65,782.19 L1005.32,782.18 L1003.00,782.18 L1000.68,782.21 L998.35,782.26 L996.03,782.34 L993.71,782.45 L991.38,782.59 L989.06,782.78 L986.74,783.00 L984.41,783.27 L982.09,783.59 L979.77,783.96 L977.44,784.39 L975.12,784.87 L972.80,785.41 L970.47,786.00 L968.15,786.65 L965.83,787.35 L963.50,788.10 L961.18,788.89 L958.86,789.73 L956.53,790.61 L954.21,791.52 L951.89,792.46 L949.56,793.43 L947.24,794.43 L944.92,795.44 L942.59,796.48 L940.27,797.54 L937.95,798.61 L935.62,799.70 L933.30,800.80 Z" fill="#999999" fill-opacity="0.4"/>
<line x1="933.30" y1="784.70" x2="1072.70" y2="753.60" stroke="#3366FF" stroke-width="3.1"/>
<rect x="833.6" y="625.40" width="364.30" height="30.0" fill="#fff" stroke="#333" stroke-width="1.45"/>
<text x="1015.75" y="648.30" text-anchor="middle" font-family="Liberation Sans, sans-serif" font-size="21.4" fill="#1A1A1A" stroke="#1A1A1A" stroke-width="0.2">Rainfall</text>
<g fill="#000" fill-opacity="0.64"><circle cx="165.5" cy="997.1" r="3.15"/><circle cx="205.9" cy="1015.2" r="3.15"/><circle cx="219.8" cy="1013.7" r="3.15"/><circle cx="139.1" cy="1020.8" r="3.15"/><circle cx="171.5" cy="1024.0" r="3.15"/><circle cx="226.2" cy="1040.2" r="3.15"/><circle cx="242.3" cy="1038.6" r="3.15"/><circle cx="197.7" cy="1042.9" r="3.15"/><circle cx="219.5" cy="1046.5" r="3.15"/><circle cx="220.6" cy="1048.1" r="3.15"/><circle cx="224.3" cy="1048.9" r="3.15"/><circle cx="238.4" cy="1050.8" r="3.15"/><circle cx="244.4" cy="1051.6" r="3.15"/><circle cx="230.1" cy="1055.5" r="3.15"/><circle cx="167.3" cy="1056.3" r="3.15"/><circle cx="208.0" cy="1057.1" r="3.15"/><circle cx="232.2" cy="1063.4" r="3.15"/><circle cx="256.6" cy="1065.6" r="3.15"/><circle cx="228.2" cy="1068.2" r="3.15"/><circle cx="246.4" cy="1067.7" r="3.15"/><circle cx="206.0" cy="1069.9" r="3.15"/><circle cx="240.2" cy="1074.3" r="3.15"/><circle cx="244.5" cy="1074.5" r="3.15"/><circle cx="201.9" cy="1081.4" r="3.15"/><circle cx="228.2" cy="1081.4" r="3.15"/><circle cx="238.3" cy="1082.5" r="3.15"/><circle cx="262.6" cy="1084.5" r="3.15"/><circle cx="153.3" cy="1086.6" r="3.15"/><circle cx="193.7" cy="1088.9" r="3.15"/><circle cx="214.0" cy="1091.8" r="3.15"/><circle cx="241.3" cy="1088.7" r="3.15"/><circle cx="243.3" cy="1089.3" r="3.15"/><circle cx="246.7" cy="1089.7" r="3.15"/><circle cx="232.0" cy="1092.0" r="3.15"/><circle cx="230.0" cy="1096.0" r="3.15"/><circle cx="234.3" cy="1098.0" r="3.15"/><circle cx="250.3" cy="1100.0" r="3.15"/><circle cx="262.7" cy="1101.7" r="3.15"/><circle cx="103.0" cy="1099.8" r="3.15"/><circle cx="232.1" cy="1104.8" r="3.15"/><circle cx="236.3" cy="1104.8" r="3.15"/><circle cx="254.3" cy="1107.7" r="3.15"/><circle cx="246.3" cy="1108.5" r="3.15"/><circle cx="236.3" cy="1110.8" r="3.15"/><circle cx="220.0" cy="1115.5" r="3.15"/><circle cx="262.3" cy="1113.3" r="3.15"/><circle cx="255.3" cy="1117.5" r="3.15"/><circle cx="258.0" cy="1118.0" r="3.15"/><circle cx="260.7" cy="1116.7" r="3.15"/><circle cx="242.3" cy="1122.7" r="3.15"/><circle cx="252.3" cy="1123.0" r="3.15"/><circle cx="262.5" cy="1124.3" r="3.15"/><circle cx="256.2" cy="1131.8" r="3.15"/><circle cx="248.3" cy="1137.8" r="3.15"/><circle cx="246.0" cy="1139.7" r="3.15"/><circle cx="242.3" cy="1161.2" r="3.15"/><circle cx="228.1" cy="1169.9" r="3.15"/><circle cx="250.4" cy="1191.6" r="3.15"/></g>
<path d="M103.50,981.05 L106.15,983.25 L108.79,985.44 L111.44,987.63 L114.09,989.83 L116.73,992.02 L119.38,994.21 L122.03,996.39 L124.67,998.58 L127.32,1000.77 L129.97,1002.95 L132.61,1005.13 L135.26,1007.31 L137.91,1009.49 L140.55,1011.66 L143.20,1013.84 L145.85,1016.01 L148.49,1018.17 L151.14,1020.34 L153.79,1022.50 L156.43,1024.65 L159.08,1026.81 L161.73,1028.95 L164.37,1031.10 L167.02,1033.23 L169.67,1035.36 L172.31,1037.49 L174.96,1039.60 L177.61,1041.71 L180.25,1043.81 L182.90,1045.90 L185.55,1047.97 L188.19,1050.04 L190.84,1052.08 L193.49,1054.11 L196.13,1056.12 L198.78,1058.11 L201.43,1060.08 L204.07,1062.01 L206.72,1063.92 L209.37,1065.79 L212.01,1067.61 L214.66,1069.40 L217.31,1071.14 L219.95,1072.82 L222.60,1074.45 L225.25,1076.02 L227.89,1077.52 L230.54,1078.98 L233.19,1080.40 L235.83,1081.77 L238.48,1083.10 L241.13,1084.40 L243.77,1085.66 L246.42,1086.89 L249.07,1088.09 L251.71,1089.26 L254.36,1090.40 L257.01,1091.52 L259.65,1092.62 L262.30,1093.70 L262.30,1117.70 L259.65,1115.83 L257.01,1113.98 L254.36,1112.15 L251.71,1110.34 L249.07,1108.56 L246.42,1106.81 L243.77,1105.09 L241.13,1103.40 L238.48,1101.75 L235.83,1100.13 L233.19,1098.55 L230.54,1097.02 L227.89,1095.53 L225.25,1094.08 L222.60,1092.70 L219.95,1091.38 L217.31,1090.11 L214.66,1088.90 L212.01,1087.74 L209.37,1086.61 L206.72,1085.53 L204.07,1084.49 L201.43,1083.47 L198.78,1082.49 L196.13,1081.53 L193.49,1080.59 L190.84,1079.67 L188.19,1078.76 L185.55,1077.88 L182.90,1077.00 L180.25,1076.14 L177.61,1075.29 L174.96,1074.45 L172.31,1073.61 L169.67,1072.79 L167.02,1071.97 L164.37,1071.15 L161.73,1070.35 L159.08,1069.54 L156.43,1068.75 L153.79,1067.95 L151.14,1067.16 L148.49,1066.38 L145.85,1065.59 L143.20,1064.81 L140.55,1064.04 L137.91,1063.26 L135.26,1062.49 L132.61,1061.72 L129.97,1060.95 L127.32,1060.18 L124.67,1059.42 L122.03,1058.66 L119.38,1057.89 L116.73,1057.13 L114.09,1056.37 L111.44,1055.62 L108.79,1054.86 L106.15,1054.10 L103.50,1053.35 Z" fill="#999999" fill-opacity="0.4"/>
<line x1="103.50" y1="1017.20" x2="262.30" y2="1105.70" stroke="#3366FF" stroke-width="3.1"/>
<rect x="87.0" y="937.15" width="364.30" height="30.0" fill="#fff" stroke="#333" stroke-width="1.45"/>
<text x="269.15" y="960.05" text-anchor="middle" font-family="Liberation Sans, sans-serif" font-size="21.4" fill="#1A1A1A" stroke="#1A1A1A" stroke-width="0.2">Technology</text>
<g fill="#000" fill-opacity="0.64"><circle cx="508.0" cy="997.3" r="3.15"/><circle cx="598.1" cy="1015.4" r="3.15"/><circle cx="613.7" cy="1014.0" r="3.15"/><circle cx="542.5" cy="1020.8" r="3.15"/><circle cx="569.4" cy="1024.2" r="3.15"/><circle cx="578.9" cy="1040.2" r="3.15"/><circle cx="578.9" cy="1042.8" r="3.15"/><circle cx="634.8" cy="1038.4" r="3.15"/><circle cx="613.7" cy="1046.2" r="3.15"/><circle cx="602.0" cy="1048.0" r="3.15"/><circle cx="598.1" cy="1051.5" r="3.15"/><circle cx="634.8" cy="1049.0" r="3.15"/><circle cx="642.3" cy="1050.8" r="3.15"/><circle cx="557.8" cy="1056.1" r="3.15"/><circle cx="575.3" cy="1055.5" r="3.15"/><circle cx="623.2" cy="1056.9" r="3.15"/><circle cx="623.2" cy="1063.6" r="3.15"/><circle cx="617.5" cy="1065.7" r="3.15"/><circle cx="613.7" cy="1068.3" r="3.15"/><circle cx="648.0" cy="1067.5" r="3.15"/><circle cx="548.1" cy="1069.7" r="3.15"/><circle cx="572.6" cy="1074.2" r="3.15"/><circle cx="600.1" cy="1074.2" r="3.15"/><circle cx="589.8" cy="1081.5" r="3.15"/><circle cx="598.4" cy="1082.0" r="3.15"/><circle cx="621.3" cy="1081.7" r="3.15"/><circle cx="638.5" cy="1084.4" r="3.15"/><circle cx="534.7" cy="1086.6" r="3.15"/><circle cx="569.4" cy="1087.3" r="3.15"/><circle cx="569.4" cy="1091.6" r="3.15"/><circle cx="577.2" cy="1089.8" r="3.15"/><circle cx="579.3" cy="1088.8" r="3.15"/><circle cx="594.6" cy="1089.1" r="3.15"/><circle cx="590.8" cy="1091.8" r="3.15"/><circle cx="605.5" cy="1089.8" r="3.15"/><circle cx="609.5" cy="1091.9" r="3.15"/><circle cx="596.2" cy="1095.9" r="3.15"/><circle cx="571.4" cy="1097.8" r="3.15"/><circle cx="580.7" cy="1099.4" r="3.15"/><circle cx="538.6" cy="1100.0" r="3.15"/><circle cx="580.7" cy="1104.8" r="3.15"/><circle cx="603.8" cy="1104.5" r="3.15"/><circle cx="635.0" cy="1101.3" r="3.15"/><circle cx="625.0" cy="1108.3" r="3.15"/><circle cx="632.7" cy="1107.6" r="3.15"/><circle cx="636.7" cy="1110.5" r="3.15"/><circle cx="646.3" cy="1113.6" r="3.15"/><circle cx="600.1" cy="1115.4" r="3.15"/><circle cx="607.9" cy="1117.5" r="3.15"/><circle cx="621.1" cy="1118.2" r="3.15"/><circle cx="627.0" cy="1116.5" r="3.15"/><circle cx="609.7" cy="1122.8" r="3.15"/><circle cx="588.5" cy="1122.9" r="3.15"/><circle cx="628.9" cy="1124.2" r="3.15"/><circle cx="628.9" cy="1132.0" r="3.15"/><circle cx="615.4" cy="1139.8" r="3.15"/><circle cx="623.2" cy="1138.4" r="3.15"/><circle cx="644.5" cy="1137.1" r="3.15"/><circle cx="644.5" cy="1161.2" r="3.15"/><circle cx="642.3" cy="1170.0" r="3.15"/><circle cx="623.2" cy="1191.5" r="3.15"/></g>
<path d="M508.50,1010.80 L510.82,1012.63 L513.15,1014.46 L515.48,1016.28 L517.80,1018.11 L520.12,1019.93 L522.45,1021.75 L524.77,1023.57 L527.10,1025.39 L529.42,1027.20 L531.75,1029.01 L534.08,1030.82 L536.40,1032.63 L538.73,1034.43 L541.05,1036.23 L543.38,1038.02 L545.70,1039.82 L548.02,1041.60 L550.35,1043.38 L552.67,1045.16 L555.00,1046.92 L557.33,1048.68 L559.65,1050.43 L561.98,1052.18 L564.30,1053.91 L566.62,1055.63 L568.95,1057.33 L571.27,1059.02 L573.60,1060.69 L575.92,1062.34 L578.25,1063.97 L580.58,1065.57 L582.90,1067.14 L585.23,1068.68 L587.55,1070.18 L589.88,1071.64 L592.20,1073.05 L594.52,1074.40 L596.85,1075.71 L599.17,1076.95 L601.50,1078.13 L603.83,1079.26 L606.15,1080.32 L608.48,1081.33 L610.80,1082.28 L613.12,1083.18 L615.45,1084.04 L617.77,1084.86 L620.10,1085.63 L622.42,1086.38 L624.75,1087.10 L627.08,1087.79 L629.40,1088.45 L631.73,1089.10 L634.05,1089.73 L636.38,1090.35 L638.70,1090.95 L641.02,1091.54 L643.35,1092.12 L645.67,1092.69 L648.00,1093.25 L648.00,1125.35 L645.67,1123.59 L643.35,1121.85 L641.02,1120.11 L638.70,1118.38 L636.38,1116.67 L634.05,1114.97 L631.73,1113.28 L629.40,1111.61 L627.08,1109.96 L624.75,1108.34 L622.42,1106.74 L620.10,1105.17 L617.77,1103.63 L615.45,1102.13 L613.12,1100.67 L610.80,1099.25 L608.48,1097.89 L606.15,1096.58 L603.83,1095.33 L601.50,1094.13 L599.17,1093.00 L596.85,1091.93 L594.52,1090.91 L592.20,1089.95 L589.88,1089.05 L587.55,1088.19 L585.23,1087.37 L582.90,1086.59 L580.58,1085.85 L578.25,1085.13 L575.92,1084.44 L573.60,1083.78 L571.27,1083.13 L568.95,1082.50 L566.62,1081.89 L564.30,1081.29 L561.98,1080.71 L559.65,1080.13 L557.33,1079.57 L555.00,1079.01 L552.67,1078.46 L550.35,1077.92 L548.02,1077.38 L545.70,1076.85 L543.38,1076.33 L541.05,1075.80 L538.73,1075.29 L536.40,1074.77 L534.08,1074.26 L531.75,1073.75 L529.42,1073.25 L527.10,1072.75 L524.77,1072.25 L522.45,1071.75 L520.12,1071.25 L517.80,1070.76 L515.48,1070.27 L513.15,1069.78 L510.82,1069.29 L508.50,1068.80 Z" fill="#999999" fill-opacity="0.4"/>
<line x1="508.50" y1="1039.80" x2="648.00" y2="1109.30" stroke="#3366FF" stroke-width="3.1"/>
<rect x="460.3" y="937.15" width="364.30" height="30.0" fill="#fff" stroke="#333" stroke-width="1.45"/>
<text x="642.45" y="960.05" text-anchor="middle" font-family="Liberation Sans, sans-serif" font-size="21.4" fill="#1A1A1A" stroke="#1A1A1A" stroke-width="0.2">Urban Population</text>
<line x1="86.1" y1="32.50" x2="86.1" y2="305.13" stroke="#333" stroke-width="1.35"/>
<line x1="82.3" y1="73.16" x2="86.1" y2="73.16" stroke="#333" stroke-width="1.35"/>
<text x="78.9" y="81.46" text-anchor="end" font-family="Liberation Sans, sans-serif" font-size="21.6" fill="#505050" stroke="#505050" stroke-width="0.2">2</text>
<line x1="82.3" y1="150.30" x2="86.1" y2="150.30" stroke="#333" stroke-width="1.35"/>
<text x="78.9" y="158.60" text-anchor="end" font-family="Liberation Sans, sans-serif" font-size="21.6" fill="#505050" stroke="#505050" stroke-width="0.2">0</text>
<line x1="82.3" y1="227.44" x2="86.1" y2="227.44" stroke="#333" stroke-width="1.35"/>
<text x="78.9" y="235.74" text-anchor="end" font-family="Liberation Sans, sans-serif" font-size="21.6" fill="#505050" stroke="#505050" stroke-width="0.2">-2</text>
<line x1="82.3" y1="304.58" x2="86.1" y2="304.58" stroke="#333" stroke-width="1.35"/>
<text x="78.9" y="312.88" text-anchor="end" font-family="Liberation Sans, sans-serif" font-size="21.6" fill="#505050" stroke="#505050" stroke-width="0.2">-4</text>
<line x1="86.1" y1="344.25" x2="86.1" y2="616.88" stroke="#333" stroke-width="1.35"/>
<line x1="82.3" y1="384.91" x2="86.1" y2="384.91" stroke="#333" stroke-width="1.35"/>
<text x="78.9" y="393.21" text-anchor="end" font-family="Liberation Sans, sans-serif" font-size="21.6" fill="#505050" stroke="#505050" stroke-width="0.2">2</text>
<line x1="82.3" y1="462.05" x2="86.1" y2="462.05" stroke="#333" stroke-width="1.35"/>
<text x="78.9" y="470.35" text-anchor="end" font-family="Liberation Sans, sans-serif" font-size="21.6" fill="#505050" stroke="#505050" stroke-width="0.2">0</text>
<line x1="82.3" y1="539.19" x2="86.1" y2="539.19" stroke="#333" stroke-width="1.35"/>
<text x="78.9" y="547.49" text-anchor="end" font-family="Liberation Sans, sans-serif" font-size="21.6" fill="#505050" stroke="#505050" stroke-width="0.2">-2</text>
<line x1="82.3" y1="616.33" x2="86.1" y2="616.33" stroke="#333" stroke-width="1.35"/>
<text x="78.9" y="624.63" text-anchor="end" font-family="Liberation Sans, sans-serif" font-size="21.6" fill="#505050" stroke="#505050" stroke-width="0.2">-4</text>
<line x1="86.1" y1="656.00" x2="86.1" y2="928.63" stroke="#333" stroke-width="1.35"/>
<line x1="82.3" y1="696.66" x2="86.1" y2="696.66" stroke="#333" stroke-width="1.35"/>
<text x="78.9" y="704.96" text-anchor="end" font-family="Liberation Sans, sans-serif" font-size="21.6" fill="#505050" stroke="#505050" stroke-width="0.2">2</text>
<line x1="82.3" y1="773.80" x2="86.1" y2="773.80" stroke="#333" stroke-width="1.35"/>
<text x="78.9" y="782.10" text-anchor="end" font-family="Liberation Sans, sans-serif" font-size="21.6" fill="#505050" stroke="#505050" stroke-width="0.2">0</text>
<line x1="82.3" y1="850.94" x2="86.1" y2="850.94" stroke="#333" stroke-width="1.35"/>
<text x="78.9" y="859.24" text-anchor="end" font-family="Liberation Sans, sans-serif" font-size="21.6" fill="#505050" stroke="#505050" stroke-width="0.2">-2</text>
<line x1="82.3" y1="928.08" x2="86.1" y2="928.08" stroke="#333" stroke-width="1.35"/>
<text x="78.9" y="936.38" text-anchor="end" font-family="Liberation Sans, sans-serif" font-size="21.6" fill="#505050" stroke="#505050" stroke-width="0.2">-4</text>
<line x1="86.1" y1="967.75" x2="86.1" y2="1240.38" stroke="#333" stroke-width="1.35"/>
<line x1="82.3" y1="1008.41" x2="86.1" y2="1008.41" stroke="#333" stroke-width="1.35"/>
<text x="78.9" y="1016.71" text-anchor="end" font-family="Liberation Sans, sans-serif" font-size="21.6" fill="#505050" stroke="#505050" stroke-width="0.2">2</text>
<line x1="82.3" y1="1085.55" x2="86.1" y2="1085.55" stroke="#333" stroke-width="1.35"/>
<text x="78.9" y="1093.85" text-anchor="end" font-family="Liberation Sans, sans-serif" font-size="21.6" fill="#505050" stroke="#505050" stroke-width="0.2">0</text>
<line x1="82.3" y1="1162.69" x2="86.1" y2="1162.69" stroke="#333" stroke-width="1.35"/>
<text x="78.9" y="1170.99" text-anchor="end" font-family="Liberation Sans, sans-serif" font-size="21.6" fill="#505050" stroke="#505050" stroke-width="0.2">-2</text>
<line x1="82.3" y1="1239.83" x2="86.1" y2="1239.83" stroke="#333" stroke-width="1.35"/>
<text x="78.9" y="1248.13" text-anchor="end" font-family="Liberation Sans, sans-serif" font-size="21.6" fill="#505050" stroke="#505050" stroke-width="0.2">-4</text>
<line x1="85.50" y1="1240.18" x2="452.00" y2="1240.18" stroke="#333" stroke-width="1.35"/>
<line x1="150.00" y1="1240.18" x2="150.00" y2="1244.48" stroke="#333" stroke-width="1.35"/>
<text x="150.00" y="1262.78" text-anchor="middle" font-family="Liberation Sans, sans-serif" font-size="21.6" fill="#505050" stroke="#505050" stroke-width="0.2">-2.5</text>
<line x1="228.00" y1="1240.18" x2="228.00" y2="1244.48" stroke="#333" stroke-width="1.35"/>
<text x="228.00" y="1262.78" text-anchor="middle" font-family="Liberation Sans, sans-serif" font-size="21.6" fill="#505050" stroke="#505050" stroke-width="0.2">0.0</text>
<line x1="306.00" y1="1240.18" x2="306.00" y2="1244.48" stroke="#333" stroke-width="1.35"/>
<text x="306.00" y="1262.78" text-anchor="middle" font-family="Liberation Sans, sans-serif" font-size="21.6" fill="#505050" stroke="#505050" stroke-width="0.2">2.5</text>
<line x1="384.00" y1="1240.18" x2="384.00" y2="1244.48" stroke="#333" stroke-width="1.35"/>
<text x="384.00" y="1262.78" text-anchor="middle" font-family="Liberation Sans, sans-serif" font-size="21.6" fill="#505050" stroke="#505050" stroke-width="0.2">5.0</text>
<line x1="459.70" y1="1240.18" x2="825.00" y2="1240.18" stroke="#333" stroke-width="1.35"/>
<line x1="523.30" y1="1240.18" x2="523.30" y2="1244.48" stroke="#333" stroke-width="1.35"/>
<text x="523.30" y="1262.78" text-anchor="middle" font-family="Liberation Sans, sans-serif" font-size="21.6" fill="#505050" stroke="#505050" stroke-width="0.2">-2.5</text>
<line x1="601.30" y1="1240.18" x2="601.30" y2="1244.48" stroke="#333" stroke-width="1.35"/>
<text x="601.30" y="1262.78" text-anchor="middle" font-family="Liberation Sans, sans-serif" font-size="21.6" fill="#505050" stroke="#505050" stroke-width="0.2">0.0</text>
<line x1="679.30" y1="1240.18" x2="679.30" y2="1244.48" stroke="#333" stroke-width="1.35"/>
<text x="679.30" y="1262.78" text-anchor="middle" font-family="Liberation Sans, sans-serif" font-size="21.6" fill="#505050" stroke="#505050" stroke-width="0.2">2.5</text>
<line x1="757.30" y1="1240.18" x2="757.30" y2="1244.48" stroke="#333" stroke-width="1.35"/>
<text x="757.30" y="1262.78" text-anchor="middle" font-family="Liberation Sans, sans-serif" font-size="21.6" fill="#505050" stroke="#505050" stroke-width="0.2">5.0</text>
<line x1="833.30" y1="928.43" x2="1198.60" y2="928.43" stroke="#333" stroke-width="1.35"/>
<line x1="896.80" y1="928.43" x2="896.80" y2="932.73" stroke="#333" stroke-width="1.35"/>
<text x="896.80" y="951.03" text-anchor="middle" font-family="Liberation Sans, sans-serif" font-size="21.6" fill="#505050" stroke="#505050" stroke-width="0.2">-2.5</text>
<line x1="974.80" y1="928.43" x2="974.80" y2="932.73" stroke="#333" stroke-width="1.35"/>
<text x="974.80" y="951.03" text-anchor="middle" font-family="Liberation Sans, sans-serif" font-size="21.6" fill="#505050" stroke="#505050" stroke-width="0.2">0.0</text>
<line x1="1052.80" y1="928.43" x2="1052.80" y2="932.73" stroke="#333" stroke-width="1.35"/>
<text x="1052.80" y="951.03" text-anchor="middle" font-family="Liberation Sans, sans-serif" font-size="21.6" fill="#505050" stroke="#505050" stroke-width="0.2">2.5</text>
<line x1="1130.80" y1="928.43" x2="1130.80" y2="932.73" stroke="#333" stroke-width="1.35"/>
<text x="1130.80" y="951.03" text-anchor="middle" font-family="Liberation Sans, sans-serif" font-size="21.6" fill="#505050" stroke="#505050" stroke-width="0.2">5.0</text>
<text font-family="Liberation Sans, sans-serif" font-size="26.9" fill="#000" text-anchor="middle" transform="translate(21.9,636.6) rotate(-90)">Nature Connectedness</text>
<text font-family="Liberation Sans, sans-serif" font-size="26.9" fill="#000" text-anchor="middle" transform="translate(51.2,636.6) rotate(-90)">(standardized)</text>
<text x="642.5" y="1290.0" font-family="Liberation Sans, sans-serif" font-size="26.9" fill="#000" text-anchor="middle">Predictor</text>
<text x="643.0" y="1319.0" font-family="Liberation Sans, sans-serif" font-size="26.9" fill="#000" text-anchor="middle">(standardized)</text>
</svg>
</body></html>
